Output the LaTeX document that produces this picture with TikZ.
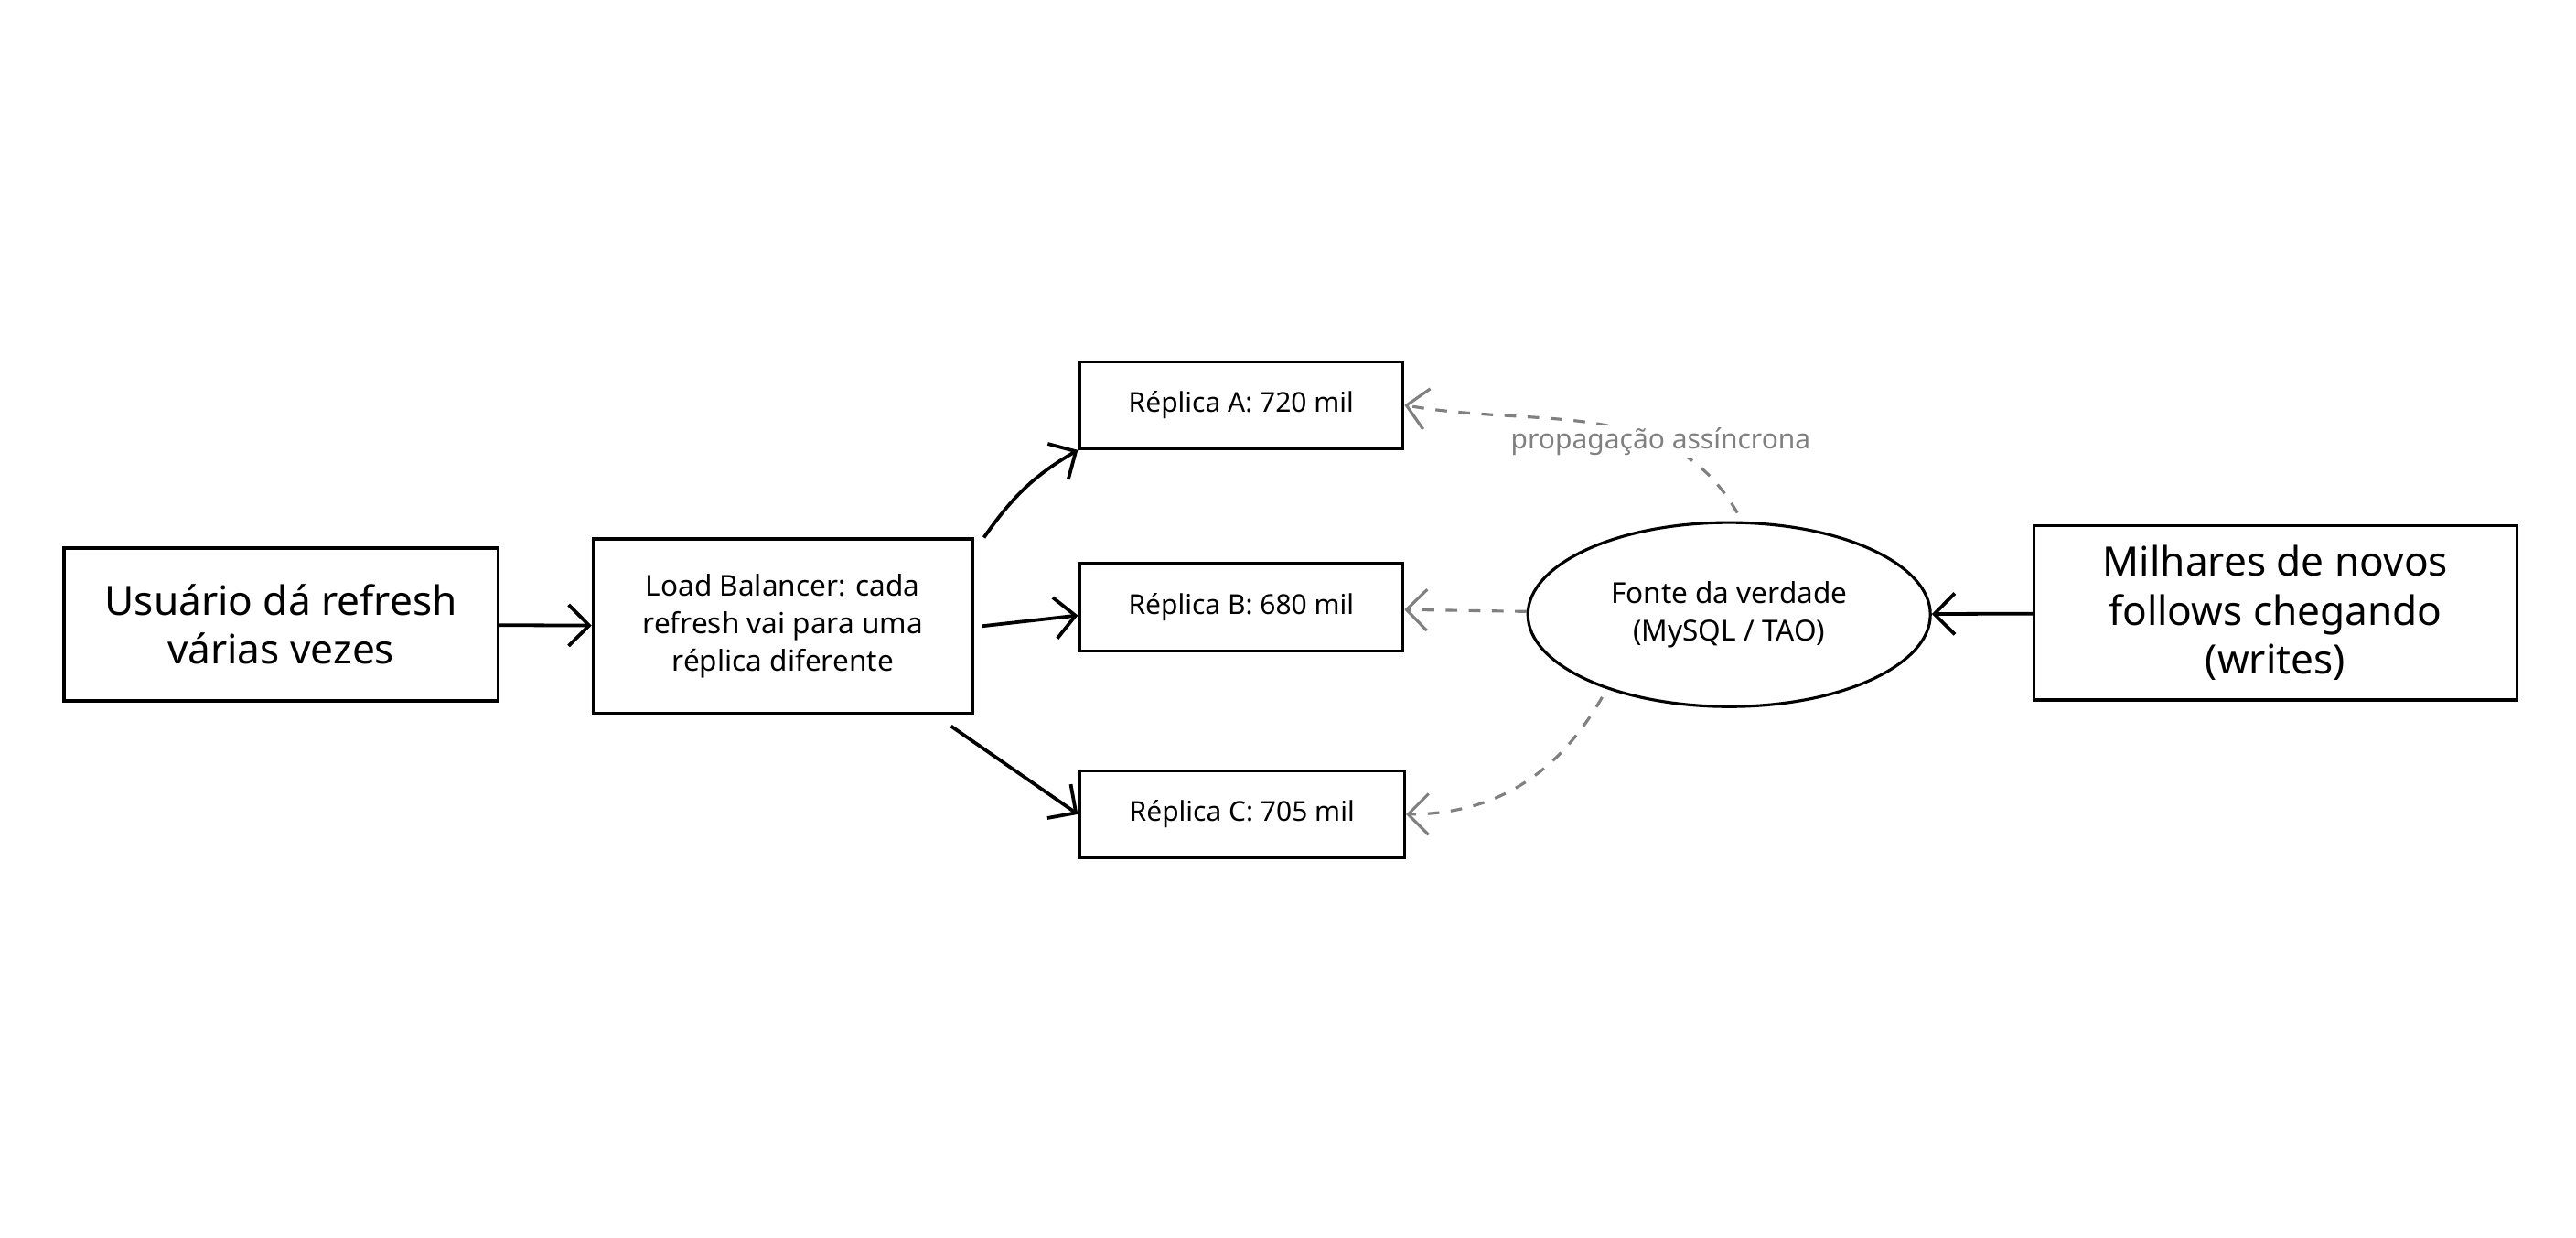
\documentclass[tikz,border=0pt]{standalone}
\usepackage{fontspec}
\setmainfont{Noto Sans}
\usetikzlibrary{shapes.geometric,arrows.meta}
\tikzset{
  box/.style={draw, line width=1pt, align=center, inner sep=0pt},
  flow/.style={-{Straight Barb[length=2.5mm]}, line width=1.2pt},
  sync/.style={-{Straight Barb[length=2.5mm]}, line width=1pt, dashed, dash pattern=on 4pt off 4pt, gray},
}
\begin{document}
\begin{tikzpicture}
    \useasboundingbox (0,0) rectangle (31.36,15.06);

    \node[box, minimum width=5.28cm, minimum height=1.86cm, font=\fontsize{14}{17}\selectfont] (user) at (3.42,7.46) {Usuário dá refresh\\várias vezes};
    \node[box, minimum width=4.62cm, minimum height=2.12cm, font=\fontsize{10}{13}\selectfont] (lb) at (9.53,7.44) {Load Balancer: cada\\refresh vai para uma\\réplica diferente};

    \node[box, minimum width=3.94cm, minimum height=1.06cm, font=\fontsize{9.5}{12}\selectfont] (repA) at (15.11,10.13) {Réplica A: 720 mil};
    \node[box, minimum width=3.94cm, minimum height=1.06cm, font=\fontsize{9.5}{12}\selectfont] (repB) at (15.11,7.67) {Réplica B: 680 mil};
    \node[box, minimum width=3.96cm, minimum height=1.06cm, font=\fontsize{9.5}{12}\selectfont] (repC) at (15.12,5.15) {Réplica C: 705 mil};

    \node[box, ellipse, minimum width=4.9cm, minimum height=2.24cm, font=\fontsize{10}{13}\selectfont] (truth) at (21.05,7.58) {Fonte da verdade\\(MySQL / TAO)};
    \node[box, minimum width=5.88cm, minimum height=2.12cm, font=\fontsize{14}{17}\selectfont] (writes) at (27.7,7.6) {Milhares de novos\\follows chegando\\(writes)};

    \draw[flow] (user) -- (lb);
    \draw[flow] (lb.north east) ++(0.12,0) to[out=55, in=210] (repA.south west);
    \draw[flow] (lb.east) ++(0.1,0) -- ([yshift=-1mm]repB.west);
    \draw[flow] (lb.south east) ++(-0.28,-0.14) -- (repC.west);
    \draw[flow] (writes) -- (truth);

    % async propagation from the source of truth
    \draw[sync] (truth.north) ++(0.1,0.1) to[out=120, in=-10]
        node[pos=0.3, fill=white, text=gray, solid, inner sep=1pt, font=\fontsize{9.5}{12}\selectfont] (async) {propagação assíncrona}
        (repA.east);
    \draw[sync] (truth) -- (repB);
    \draw[sync] (truth.south west) ++(0.2,-0.2) to[out=240, in=0] (repC.east);
\end{tikzpicture}
\end{document}
